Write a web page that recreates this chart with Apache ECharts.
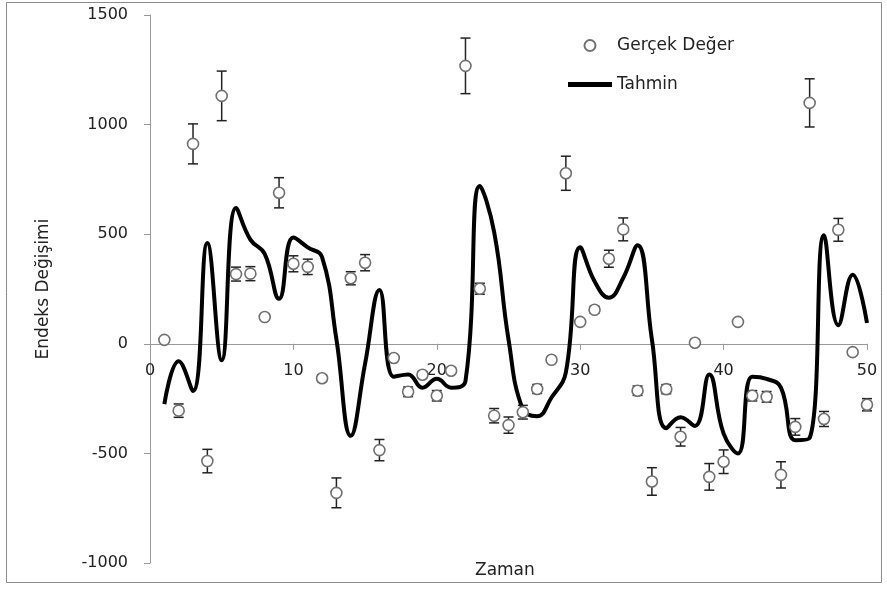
<!DOCTYPE html>
<html>
<head>
<meta charset="utf-8">
<script src="https://cdn.jsdelivr.net/npm/echarts@6/dist/echarts.min.js"></script>
<style>
  html, body { margin: 0; padding: 0; background: #fff; }
  #chart { width: 887px; height: 589px; }
</style>
</head>
<body>
<div id="chart"></div>
<script>
// zaman ekseni (1..50)
var zaman = [1, 2, 3, 4, 5, 6, 7, 8, 9, 10, 11, 12, 13, 14, 15, 16, 17, 18, 19, 20,
    21, 22, 23, 24, 25, 26, 27, 28, 29, 30, 31, 32, 33, 34, 35, 36, 37, 38, 39, 40,
    41, 42, 43, 44, 45, 46, 47, 48, 49, 50];

// gercek degerler (daireler)
var gercek = [18, -305, 912, -535, 1131, 318, 320, 122, 689, 365,
    351, -157, -680, 299, 370, -485, -65, -219, -141, -237,
    -123, 1268, 251, -328, -371, -312, -206, -73, 778, 100,
    155, 388, 522, -214, -628, -207, -424, 5, -607, -538,
    100, -237, -242, -598, -379, 1099, -343, 520, -38, -278];

// tahmin egrisi
var tahmin = [-275, -80, -215, 460, -75, 620, 475, 410, 205, 485,
    440, 395, 20, -420, -90, 246, -150, -140, -200, -160,
    -200, -170, 720, 510, 20, -300, -330, -245, -130, 440,
    285, 210, 300, 450, 20, -385, -335, -375, -140, -410,
    -500, -150, -160, -200, -440, -430, 495, 85, 315, 95];

// hata cubugu: yuzde
var hataYuzde = 10;

var yTicks = [-1000, -500, 0, 500, 1000, 1500];

var chart = echarts.init(document.getElementById('chart'));

var noktalar = [], egri = [], hatalar = [];
for (var i = 0; i < zaman.length; i++) {
    noktalar.push([zaman[i], gercek[i]]);
    egri.push([zaman[i], tahmin[i]]);
    var e = Math.abs(gercek[i]) * hataYuzde / 100;
    hatalar.push([zaman[i], gercek[i] - e, gercek[i] + e]);
}

var yazi = 'DejaVu Sans';
var gridTop = 15, gridBottom = 26, h = 589;
// sifir cizgisinin alt kenardan uzakligi (etiketleri oraya tasimak icin)
var plotH = h - gridTop - gridBottom;
var sifirOffset = -plotH * (0 - yTicks[0]) / (yTicks[yTicks.length - 1] - yTicks[0]) + 4;

var option = {
    animation: false,
    grid: { left: 150, right: 20, top: gridTop, bottom: gridBottom },
    legend: {
        orient: 'vertical',
        left: 563,
        top: 32,
        itemWidth: 44,
        itemHeight: 11,
        itemGap: 22,
        textStyle: { fontFamily: yazi, fontSize: 17, color: '#222' },
        data: [
            { name: 'Gerçek Değer' },
            { name: 'Tahmin', icon: 'path://M0,0 L44,0 L44,5 L0,5 Z', itemStyle: { color: '#000' } }
        ]
    },
    xAxis: [
        {
            type: 'value',
            min: 0,
            max: 50,
            interval: 10,
            axisLine: { onZero: true, lineStyle: { color: '#999' } },
            axisTick: { show: true, length: 6, lineStyle: { color: '#999' } },
            axisLabel: { show: false },
            splitLine: { show: false }
        },
        {
            type: 'value',
            position: 'bottom',
            offset: sifirOffset,
            min: 0,
            max: 50,
            interval: 10,
            axisLine: { show: false, onZero: false },
            axisTick: { show: false },
            axisLabel: { margin: 15, fontFamily: yazi, fontSize: 16, color: '#222' },
            splitLine: { show: false }
        }
    ],
    yAxis: {
        type: 'value',
        min: yTicks[0],
        max: yTicks[yTicks.length - 1],
        interval: 500,
        name: 'Endeks Değişimi',
        nameLocation: 'middle',
        nameGap: 98,
        nameTextStyle: { fontFamily: yazi, fontSize: 17, color: '#222' },
        axisLine: { show: true, lineStyle: { color: '#999' } },
        axisTick: { show: true, length: 6, lineStyle: { color: '#999' } },
        axisLabel: {
            margin: 22, fontFamily: yazi, fontSize: 16, color: '#222',
            formatter: function (v) { return String(v); }
        },
        splitLine: { show: false }
    },
    graphic: [
        {
            type: 'rect',
            shape: { x: 6.5, y: 2.5, width: 875, height: 580 },
            style: { fill: 'none', stroke: '#8c8c8c', lineWidth: 1 },
            silent: true
        },
        {
            type: 'text',
            left: 475,
            top: 562,
            style: { text: 'Zaman', font: '17px "DejaVu Sans"', fill: '#222' }
        }
    ],
    series: [
        {
            name: 'Tahmin',
            type: 'line',
            data: egri,
            smooth: 0.45,
            symbol: 'none',
            z: 2,
            lineStyle: { color: '#000', width: 4 },
            itemStyle: { color: '#000' }
        },
        {
            name: 'hata',
            type: 'custom',
            data: hatalar,
            z: 3,
            renderItem: function (params, api) {
                var x = api.value(0);
                var lo = api.coord([x, api.value(1)]);
                var hi = api.coord([x, api.value(2)]);
                var w = 5;
                var st = { stroke: '#222', lineWidth: 1.5 };
                return {
                    type: 'group',
                    children: [
                        { type: 'line', shape: { x1: lo[0], y1: lo[1], x2: hi[0], y2: hi[1] }, style: st },
                        { type: 'line', shape: { x1: lo[0] - w, y1: lo[1], x2: lo[0] + w, y2: lo[1] }, style: st },
                        { type: 'line', shape: { x1: hi[0] - w, y1: hi[1], x2: hi[0] + w, y2: hi[1] }, style: st }
                    ]
                };
            }
        },
        {
            name: 'Gerçek Değer',
            type: 'scatter',
            data: noktalar,
            symbol: 'circle',
            symbolSize: 11,
            z: 4,
            itemStyle: { color: '#fff', borderColor: '#707070', borderWidth: 1.6, opacity: 1 }
        }
    ]
};

chart.setOption(option);
</script>
</body>
</html>
